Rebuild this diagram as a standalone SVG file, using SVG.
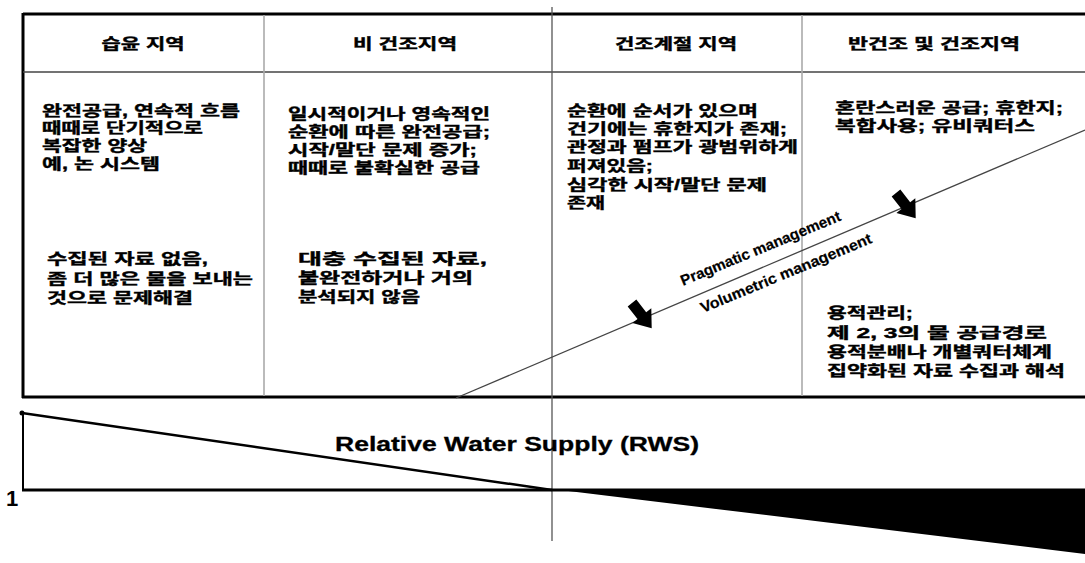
<svg xmlns="http://www.w3.org/2000/svg" width="1085" height="563" viewBox="0 0 1085 563">
<style>
.t{font-family:"Liberation Sans","Noto Sans CJK KR",sans-serif;font-weight:bold;font-size:15px;fill:#000;stroke:#000;stroke-width:0.4}
.h{font-family:"Liberation Sans","Noto Sans CJK KR",sans-serif;font-weight:bold;font-size:15px;fill:#000;stroke:#000;stroke-width:0.4;text-anchor:middle}
.e{font-family:"Liberation Sans",sans-serif;font-weight:bold;font-size:15px;fill:#000;stroke:#000;stroke-width:0.2}
.frame{stroke:#000;stroke-width:3;fill:none}
.div{stroke:#aaa;stroke-width:1.6;fill:none}
</style>
<defs>
<polygon id="blk" points="0,-5.5 16,-5.5 16,-12 32,0 16,12 16,5.5 0,5.5" fill="#000"/>
</defs>
<rect width="1085" height="563" fill="#fff"/>
<g id="frame">
<line class="frame" x1="23" y1="14" x2="1085" y2="14"/>
<line class="frame" x1="23" y1="13" x2="23" y2="398"/>
<line class="frame" x1="22" y1="397" x2="1085" y2="397"/>
<line x1="23" y1="72" x2="1085" y2="72" stroke="#444" stroke-width="1.6"/>
<line class="div" x1="264" y1="15" x2="264" y2="396"/>
<line class="div" x1="802" y1="15" x2="802" y2="396"/>
<line x1="552" y1="7" x2="552" y2="541" stroke="#555" stroke-width="1.3"/>
</g>
<g id="col-humid">
<text class="h" x="143" y="49" textLength="83" lengthAdjust="spacingAndGlyphs">습윤 지역</text>
<text class="t"><tspan x="42" y="116" textLength="198" lengthAdjust="spacingAndGlyphs">완전공급, 연속적 흐름</tspan><tspan x="42" y="133" textLength="161" lengthAdjust="spacingAndGlyphs">때때로 단기적으로</tspan><tspan x="42" y="151" textLength="105" lengthAdjust="spacingAndGlyphs">복잡한 양상</tspan><tspan x="42" y="169" textLength="118" lengthAdjust="spacingAndGlyphs">예, 논 시스템</tspan></text>
<text class="t"><tspan x="47" y="264" textLength="161" lengthAdjust="spacingAndGlyphs">수집된 자료 없음,</tspan><tspan x="47" y="284" textLength="206" lengthAdjust="spacingAndGlyphs">좀 더 많은 물을 보내는</tspan><tspan x="47" y="303" textLength="146" lengthAdjust="spacingAndGlyphs">것으로 문제해결</tspan></text>
</g>
<g id="col-nonarid">
<text class="h" x="405" y="49" textLength="104" lengthAdjust="spacingAndGlyphs">비 건조지역</text>
<text class="t"><tspan x="288" y="119" textLength="202" lengthAdjust="spacingAndGlyphs">일시적이거나 영속적인</tspan><tspan x="288" y="137" textLength="202" lengthAdjust="spacingAndGlyphs">순환에 따른 완전공급;</tspan><tspan x="288" y="155" textLength="189" lengthAdjust="spacingAndGlyphs">시작/말단 문제 증가;</tspan><tspan x="288" y="173" textLength="192" lengthAdjust="spacingAndGlyphs">때때로 불확실한 공급</tspan></text>
<text class="t"><tspan x="298" y="264" textLength="189" lengthAdjust="spacingAndGlyphs">대충 수집된 자료,</tspan><tspan x="298" y="283" textLength="175" lengthAdjust="spacingAndGlyphs">불완전하거나 거의</tspan><tspan x="298" y="302" textLength="122" lengthAdjust="spacingAndGlyphs">분석되지 않음</tspan></text>
</g>
<g id="col-dryseason">
<text class="h" x="676" y="49" textLength="122" lengthAdjust="spacingAndGlyphs">건조계절 지역</text>
<text class="t"><tspan x="567" y="116" textLength="191" lengthAdjust="spacingAndGlyphs">순환에 순서가 있으며</tspan><tspan x="567" y="134" textLength="220" lengthAdjust="spacingAndGlyphs">건기에는 휴한지가 존재;</tspan><tspan x="567" y="152" textLength="231" lengthAdjust="spacingAndGlyphs">관정과 펌프가 광범위하게</tspan><tspan x="567" y="171" textLength="86" lengthAdjust="spacingAndGlyphs">퍼져있음;</tspan><tspan x="567" y="190" textLength="200" lengthAdjust="spacingAndGlyphs">심각한 시작/말단 문제</tspan><tspan x="567" y="208" textLength="38" lengthAdjust="spacingAndGlyphs">존재</tspan></text>
</g>
<g id="col-semiarid">
<text class="h" x="934" y="49" textLength="172" lengthAdjust="spacingAndGlyphs">반건조 및 건조지역</text>
<text class="t"><tspan x="835" y="113" textLength="228" lengthAdjust="spacingAndGlyphs">혼란스러운 공급; 휴한지;</tspan><tspan x="835" y="131" textLength="200" lengthAdjust="spacingAndGlyphs">복합사용;  유비쿼터스</tspan></text>
<text class="t"><tspan x="827" y="318" textLength="86" lengthAdjust="spacingAndGlyphs">용적관리;</tspan><tspan x="827" y="338" textLength="220" lengthAdjust="spacingAndGlyphs">제 2, 3의 물 공급경로</tspan><tspan x="827" y="357" textLength="225" lengthAdjust="spacingAndGlyphs">용적분배나 개별쿼터체계</tspan><tspan x="827" y="376" textLength="238" lengthAdjust="spacingAndGlyphs">집약화된 자료 수집과 해석</tspan></text>
</g>
<g id="connectors">
<line x1="456" y1="398" x2="1085" y2="130" stroke="#444" stroke-width="1.3"/>
<use href="#blk" transform="translate(632,303) rotate(52)"/>
<use href="#blk" transform="translate(896,193) rotate(52)"/>
</g>
<g id="labels-management">
<text class="e" transform="translate(683,286) rotate(-22.5)" textLength="172" lengthAdjust="spacingAndGlyphs">Pragmatic management</text>
<text class="e" transform="translate(703,313) rotate(-22.5)" textLength="184" lengthAdjust="spacingAndGlyphs">Volumetric management</text>
</g>
<g id="rws-chart">
<circle cx="22" cy="413" r="2.5" fill="#000"/>
<line x1="22" y1="413" x2="552" y2="490" stroke="#000" stroke-width="2.5"/>
<line x1="23" y1="413" x2="23" y2="491" stroke="#000" stroke-width="2"/>
<line x1="22" y1="490" x2="1085" y2="490" stroke="#000" stroke-width="3"/>
<polygon points="552,489 1085,489 1085,554" fill="#000"/>
<text x="6" y="506" font-family="Liberation Sans, sans-serif" font-weight="bold" font-size="22">1</text>
<text x="335" y="451" font-family="Liberation Sans, sans-serif" font-weight="bold" font-size="20" stroke="#000" stroke-width="0.3" textLength="364" lengthAdjust="spacingAndGlyphs">Relative Water Supply (RWS)</text>
</g>
</svg>
